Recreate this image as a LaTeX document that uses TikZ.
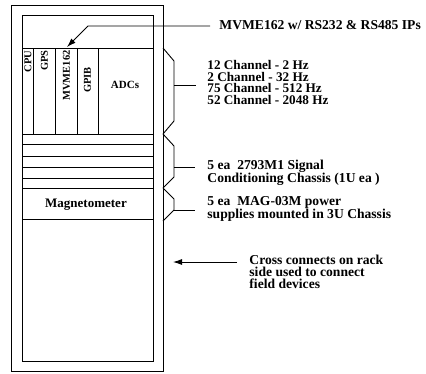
\documentclass[tikz,border=0pt]{standalone}
\usepackage{fontspec}
\setmainfont{Liberation Serif}
\usetikzlibrary{arrows.meta}
\begin{document}
\begin{tikzpicture}[x=1pt,y=-1pt,line width=0.9pt,
  rtext/.style={anchor=base west,inner sep=0pt,align=left,font=\bfseries\fontsize{13.6}{13}\selectfont},
  chtext/.style={rtext,font=\bfseries\fontsize{13.2}{11.6}\selectfont},
  crtext/.style={rtext,font=\bfseries\fontsize{13.6}{12}\selectfont},
  cardlbl/.style={inner sep=0pt,font=\bfseries\fontsize{11}{11}\selectfont},
  vlbl/.style={cardlbl,rotate=90,font=\bfseries\fontsize{10.5}{10.5}\selectfont},
  brace/.style={line width=0.9pt,line join=miter},
  arr/.style={-{Latex[length=9pt,width=6pt]}},
]
\useasboundingbox (0,0) rectangle (426,373);
% rack
\draw (11,5) rectangle (163,371);
\draw (22,15) rectangle (153,361);
\draw (22,48) -- (153,48);
\foreach \yy in {134,144,156,167,178,188,219} \draw (22,\yy) -- (153,\yy);
\foreach \xx in {33,55,77,98} \draw (\xx,48) -- (\xx,134);
% card labels
\node[vlbl,anchor=east] (cpu) at (28,50) {CPU};
\node[vlbl,anchor=east] (gps) at (44.5,50) {GPS};
\node[vlbl,anchor=east] (mvme) at (66.5,50) {MVME162};
\node[vlbl] (gpib) at (87.5,80) {GPIB};
\node[cardlbl] (adc) at (125,85) {ADCs};
\node[cardlbl,font=\bfseries\fontsize{13}{13}\selectfont] (mag) at (86,205) {Magnetometer};
% right texts (anchored at baseline of last line)
\node[rtext] (mvt) at (219,29.5) {MVME162 w/ RS232 \& RS485 IPs};
\node[chtext] (cht) at (207,104.5) {12 Channel - 2 Hz\\2 Channel - 32 Hz\\75 Channel - 512 Hz\\52 Channel - 2048 Hz};
\node[rtext] (sct) at (207,182.5) {5 ea\ \ 2793M1 Signal\\Conditioning Chassis (1U ea )};
\node[rtext] (magt) at (207,218.5) {5 ea\ \ MAG-03M power\\supplies mounted in 3U Chassis};
\node[crtext] (crt) at (249,288.5) {Cross connects on rack\\side used to connect\\field devices};
% braces
\draw[brace] (163,48) -- (174,61) -- (174,121) -- (163,134);
\draw[brace] (163,134) -- (174,146) -- (174,177) -- (163,188);
\draw[brace] (163,188) -- (174,199) -- (174,210) -- (163,221);
\coordinate (t1) at (174,85);
\coordinate (t2) at (174,167);
\coordinate (t3) at (174,210);
\coordinate (t1e) at (196,85);
\coordinate (t2e) at (195,167);
\coordinate (t3e) at (195,210);
\draw (t1) -- (t1e);
\draw (t2) -- (t2e);
\draw (t3) -- (t3e);
% arrows
\coordinate (mva) at (210,26);
\coordinate (mvk) at (88,26);
\coordinate (mvtip) at (67,47);
\draw[arr] (mva) -- (mvk) -- (mvtip);
\coordinate (cra) at (237,262);
\coordinate (crtip) at (173,262);
\draw[arr] (cra) -- (crtip);
\end{tikzpicture}
\end{document}
